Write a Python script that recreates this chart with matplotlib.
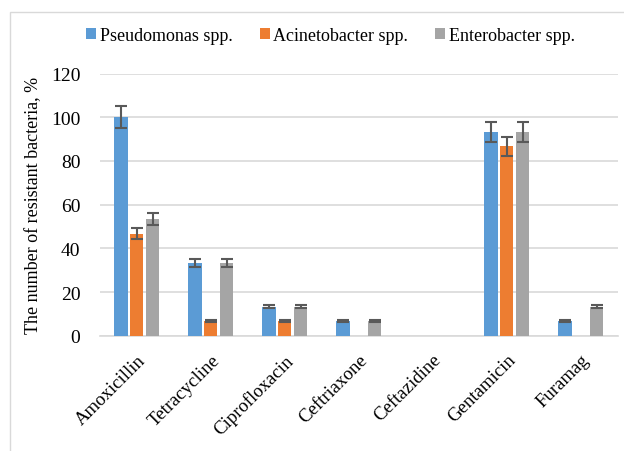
import matplotlib
matplotlib.use("Agg")
import matplotlib.pyplot as plt
import numpy as np
from matplotlib.patches import Rectangle

# data
drugs = ["Amoxicillin", "Tetracycline", "Ciprofloxacin", "Ceftriaxone",
         "Ceftazidine", "Gentamicin", "Furamag"]
pseudomonas = [100, 33.3, 13.3, 6.7, 0, 93.3, 6.7]
acinetobacter = [46.7, 6.7, 6.7, 0, 0, 86.7, 0]
enterobacter = [53.3, 33.3, 13.3, 6.7, 0, 93.3, 13.3]
pseudomonas_err = [5, 1.7, 0.7, 0.6, 0, 4.7, 0.6]
acinetobacter_err = [2.6, 0.6, 0.6, 0, 0, 4.4, 0]
enterobacter_err = [2.8, 1.7, 0.7, 0.6, 0, 4.7, 0.7]

series = [
    ("Pseudomonas spp.", pseudomonas, pseudomonas_err, "#5b9bd5"),
    ("Acinetobacter spp.", acinetobacter, acinetobacter_err, "#ed7d31"),
    ("Enterobacter spp.", enterobacter, enterobacter_err, "#a5a5a5"),
]

plt.rcParams["font.family"] = ["Liberation Serif", "DejaVu Serif"]

fig = plt.figure(figsize=(6.24, 4.52), dpi=100)
ax = fig.add_axes([0.16, 0.255, 0.83, 0.58])

# chart border like the office export
fig.patches.append(Rectangle((10 / 624, -0.1), 1.2, 1 - 13 / 452 + 0.1,
                             transform=fig.transFigure, fill=False,
                             edgecolor="#d9d9d9", linewidth=1))

x = np.arange(len(drugs))
width = 0.18
step = 0.215
for i, (name, vals, errs, color) in enumerate(series):
    # no error bar drawn where nothing was resistant
    errs = [e if e > 0 else np.nan for e in errs]
    ax.bar(x + (i - 1) * step, vals, width, color=color, label=name,
           yerr=errs, error_kw=dict(ecolor="#595959", elinewidth=1.5,
                                    capsize=4, capthick=1.5), zorder=3)

ax.set_xlim(-0.5, len(drugs) - 0.5)
ax.set_ylim(0, 120)
ax.set_yticks(range(0, 121, 20))
ax.yaxis.grid(True, color="#d9d9d9", linewidth=1.2, zorder=0)
ax.set_axisbelow(True)
for s in ["top", "right", "left"]:
    ax.spines[s].set_visible(False)
ax.spines["bottom"].set_color("#d9d9d9")
ax.spines["bottom"].set_linewidth(1.2)
ax.tick_params(axis="y", length=0, labelsize=14, pad=14)
ax.tick_params(axis="x", length=0, pad=11)
ax.set_xticks(x)
ax.set_xticklabels(drugs, rotation=45, ha="right", rotation_mode="anchor",
                   fontsize=13.5)
ax.set_ylabel("The number of resistant bacteria, %", fontsize=13, labelpad=6)

ax.legend(loc="lower left", bbox_to_anchor=(-0.04, 1.085), ncol=3,
          frameon=False, fontsize=13, handlelength=0.55, handleheight=0.55,
          handletextpad=0.2, columnspacing=1.5, borderaxespad=0)

fig.savefig("out.png", dpi=100)
